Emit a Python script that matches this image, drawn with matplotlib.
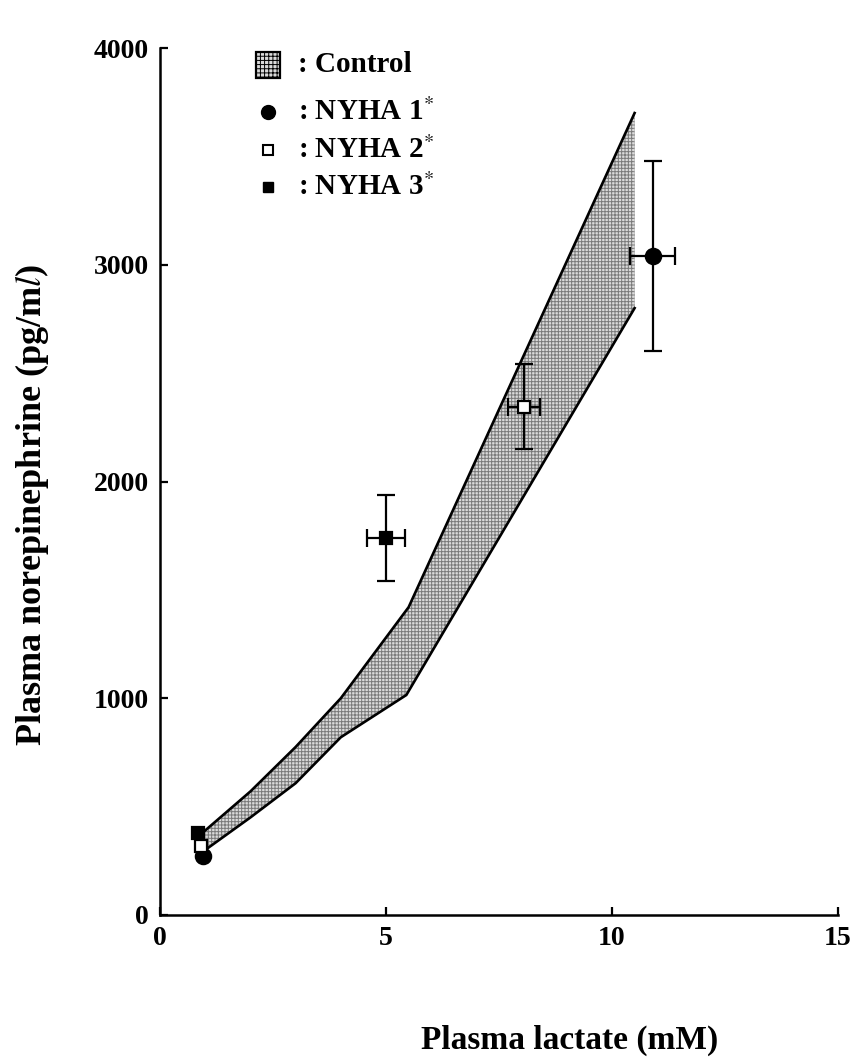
import numpy as np
import matplotlib
matplotlib.use("Agg")
import matplotlib.pyplot as plt
from matplotlib.patches import Rectangle

plt.rcParams['font.family'] = ['Liberation Serif', 'DejaVu Serif']
plt.rcParams['mathtext.fontset'] = 'stix'
plt.rcParams['hatch.linewidth'] = 0.7

# Control band (upper / lower boundaries)
upper_x = [1.0, 2.0, 3.0, 4.0, 5.5, 10.5]
upper_y = [390, 570, 775, 1000, 1420, 3700]
lower_x = [1.0, 2.0, 3.0, 4.0, 5.45, 10.5]
lower_y = [300, 450, 608, 820, 1015, 2800]

# NYHA groups: rest and exercise points
groups = ['NYHA 1', 'NYHA 2', 'NYHA 3']
rest_x = [0.95, 0.9, 0.85]
rest_y = [270, 320, 380]
ex_x = [10.9, 8.05, 5.0]
ex_y = [3040, 2345, 1740]
ex_xerr = [0.5, 0.35, 0.42]
ex_yerr = [440, 195, 200]

fig = plt.figure(figsize=(8.5, 10.58), dpi=100)
ax = fig.add_axes([160/850, 1-915/1058, (838-160)/850, (915-48)/1058])

# band
px = np.concatenate([upper_x, lower_x[::-1]])
py = np.concatenate([upper_y, lower_y[::-1]])
ax.fill(px, py, facecolor='#dadada', edgecolor='#7a7a7a', linewidth=0, hatch='+++++', zorder=1)
ax.plot(upper_x, upper_y, color='black', lw=1.9, zorder=2)
ax.plot(lower_x, lower_y, color='black', lw=1.9, zorder=2)

markers = ['o', 's', 's']
faces = ['black', 'white', 'black']
msizes = [11, 9, 9]
for i in range(3):
    ax.plot(rest_x[i], rest_y[i], marker=markers[i], ms=msizes[i], mfc=faces[i],
            mec='black', mew=1.6, ls='none', zorder=4)
    ax.errorbar(ex_x[i], ex_y[i], xerr=ex_xerr[i], yerr=ex_yerr[i],
                fmt=markers[i], ms=msizes[i], mfc=faces[i], mec='black', mew=1.6,
                ecolor='black', elinewidth=1.6, capsize=6.5, capthick=1.6, zorder=4)

ax.set_xlim(0, 15)
ax.set_ylim(0, 4000)
ax.set_xticks([0, 5, 10, 15])
ax.set_yticks([0, 1000, 2000, 3000, 4000])
for s in ['top', 'right']:
    ax.spines[s].set_visible(False)
for s in ['left', 'bottom']:
    ax.spines[s].set_linewidth(1.8)
ax.tick_params(direction='in', length=6, width=1.6, labelsize=20, pad=8)
for lab in ax.get_xticklabels() + ax.get_yticklabels():
    lab.set_fontweight('bold')

# legend (custom)
lx_m = (268-160)/(838-160) * 15
leg_y = [3922, 3705, 3530, 3360]
leg_txt = [': Control', r': NYHA 1$^{*}$', r': NYHA 2$^{*}$', r': NYHA 3$^{*}$']
ax.add_patch(Rectangle((lx_m - 0.27, leg_y[0] - 60), 0.54, 120, facecolor='#dadada',
                       edgecolor='black', lw=1.6, hatch='++++', zorder=5, clip_on=False))
ax.plot(lx_m, leg_y[1], 'o', ms=10, mfc='black', mec='black', zorder=5)
ax.plot(lx_m, leg_y[2], 's', ms=7, mfc='white', mec='black', mew=1.5, zorder=5)
ax.plot(lx_m, leg_y[3], 's', ms=7, mfc='black', mec='black', zorder=5)
tx = (298-160)/(838-160) * 15
for y, t in zip(leg_y, leg_txt):
    ax.text(tx, y, t, fontsize=21, fontweight='bold', va='center', ha='left', zorder=5)

fig.text(570/850, 1-1040/1058, 'Plasma lactate (mM)', fontsize=24, fontweight='bold',
         ha='center', va='center')
fig.text(32/850, 1-505/1058, r'Plasma norepinephrine (pg/m$\mathit{l}$)', fontsize=26,
         fontweight='bold', ha='center', va='center', rotation=90)

fig.savefig('out.png', dpi=100)
